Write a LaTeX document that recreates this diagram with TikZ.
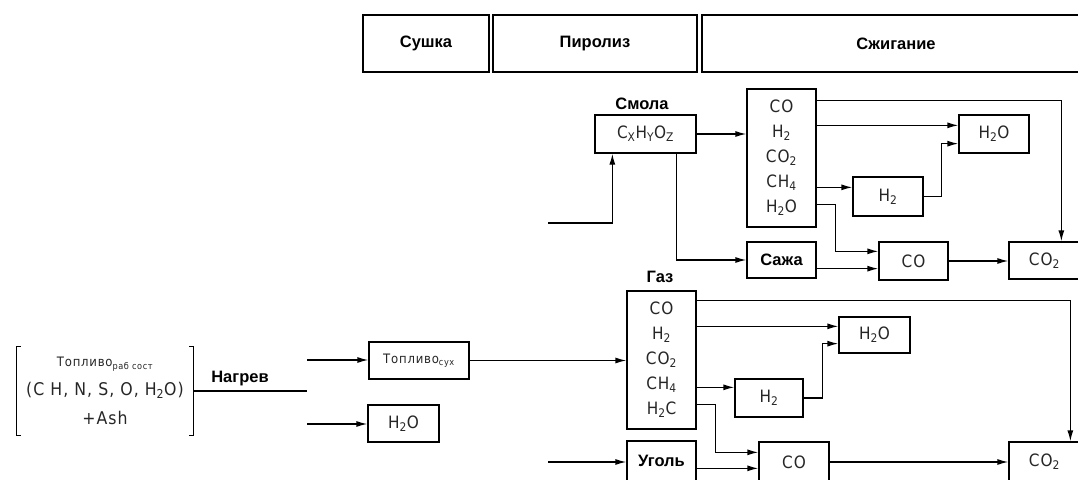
\documentclass[tikz,border=0pt]{standalone}
\usepackage{fontspec}
\setmainfont{Liberation Sans}
\newfontfamily\fml{DejaVu Sans Condensed}[LetterSpace=6]
\usetikzlibrary{arrows.meta,calc}
\begin{document}
\begin{tikzpicture}[x=1pt,y=-1pt,
  bx/.style={draw,line width=1.3pt,inner sep=0pt,font=\fml\fontsize{17}{25}\selectfont,text=black!85,align=center},
  lbl/.style={font=\bfseries\fontsize{16.5}{18}\selectfont},
  lbx/.style={draw,line width=1.3pt,inner sep=0pt,font=\bfseries\fontsize{16.5}{18}\selectfont},
  top/.style={draw,line width=1.6pt,inner sep=0pt,minimum height=57pt,font=\bfseries\fontsize{16.5}{18}\selectfont},
  ln/.style={line width=1.3pt},
  arr/.style={line width=1.3pt,-{Latex[length=11pt,width=6pt]}}]
\useasboundingbox (0,0) rectangle (1078,479);

% phase headers
\node[top,minimum width=126pt] (sushka) at (426,43.5) {Сушка};
\node[top,minimum width=204pt] (piroliz) at (595,43.5) {Пиролиз};
\node[top,minimum width=388pt] (szhig) at (896,43.5) {Сжигание};

% upper section
\node[lbl] (smolalbl) at (642,104) {Смола};
\node[bx,minimum width=101pt,minimum height=38pt] (smola) at (645.5,134) {C\textsubscript{X}H\textsubscript{Y}O\textsubscript{Z}};
\node[bx,minimum width=69pt,minimum height=138pt] (gas1) at (781.5,158) {CO\\H\textsubscript{2}\\CO\textsubscript{2}\\CH\textsubscript{4}\\H\textsubscript{2}O};
\node[bx,minimum width=70pt,minimum height=38pt] (h2o1) at (994,134) {H\textsubscript{2}O};
\node[bx,minimum width=70pt,minimum height=39pt] (h2a) at (888,196.5) {H\textsubscript{2}};
\node[lbx,minimum width=69pt,minimum height=36pt] (sazha) at (781.5,260) {Сажа};
\node[bx,minimum width=69pt,minimum height=38pt] (co1) at (913.5,261) {CO};
\node[bx,minimum width=71pt,minimum height=37pt] (co2a) at (1044.5,260.5) {CO\textsubscript{2}};

\coordinate (c1) at (548,223);
\draw[arr] (c1) -| ($(smola.south west)+(18,0)$);
\draw[arr] (smola.east) -- (smola.east -| gas1.west);
\draw[arr] ($(smola.south west)+(82,0)$) |- (sazha.west);
\draw[arr] ($(gas1.north east)+(0,12)$) -| ($(co2a.north west)+(53,0)$);
\coordinate (g1h2) at ($(gas1.north east)+(0,37)$);
\draw[arr] (g1h2) -- (g1h2 -| h2o1.west);
\coordinate (g1ch4) at ($(gas1.north east)+(0,99)$);
\draw[arr] (g1ch4) -- (g1ch4 -| h2a.west);
\draw[arr] (h2a.east) -- ++(18,0) |- ($(h2o1.south west)+(0,-10)$);
\draw[arr] ($(gas1.north east)+(0,116)$) -- ++(19,0) |- ($(co1.north west)+(0,10)$);
\coordinate (sz) at ($(sazha.south east)+(0,-10)$);
\draw[arr] (sz) -- (sz -| co1.west);
\draw[arr] (co1.east) -- (co1.east -| co2a.west);

% lower section
\node[minimum width=176pt,minimum height=88pt,inner sep=0pt,align=center,
      font=\fml\fontsize{17.5}{29}\selectfont,text=black!85] (fuel) at (105,391)
  {{\fontsize{13}{29}\selectfont Топливо\textsubscript{раб сост}}\\(C H, N, S, O, H\textsubscript{2}O)\\+Ash};
\draw[ln] ($(fuel.north west)+(4,0)$) -- (fuel.north west) -- (fuel.south west) -- ++(4,0);
\draw[ln] ($(fuel.north east)+(-4,0)$) -- (fuel.north east) -- (fuel.south east) -- ++(-4,0);
\node[lbl] (nagrev) at (240,379) {Нагрев};
\coordinate (n1) at (307,391);
\coordinate (n2) at (307,360);
\coordinate (n3) at (307,424);
\draw[ln] (fuel.east) -- (fuel.east -| n1);

\node[bx,minimum width=100pt,minimum height=37pt,font=\fml\fontsize{13}{15}\selectfont] (tsuh) at (419,360.5) {Топливо\textsubscript{сух}};
\node[bx,minimum width=71pt,minimum height=37pt] (h2o0) at (403.5,423.5) {H\textsubscript{2}O};
\node[lbl] (gazlbl) at (660,277) {Газ};
\node[bx,minimum width=69pt,minimum height=138pt] (gas2) at (661.5,360) {CO\\H\textsubscript{2}\\CO\textsubscript{2}\\CH\textsubscript{4}\\H\textsubscript{2}C};
\node[lbx,minimum width=69pt,minimum height=40pt] (ugol) at (661.5,461) {Уголь};
\node[bx,minimum width=71pt,minimum height=36pt] (h2o2) at (874.5,335) {H\textsubscript{2}O};
\node[bx,minimum width=68pt,minimum height=38pt] (h2b) at (769,398) {H\textsubscript{2}};
\node[bx,minimum width=70pt,minimum height=40pt] (co3) at (794,462) {CO};
\node[bx,minimum width=71pt,minimum height=40pt] (co2b) at (1044.5,462) {CO\textsubscript{2}};

\draw[arr] (n2) -- (n2 -| tsuh.west);
\draw[arr] (n3) -- (n3 -| h2o0.west);
\draw[arr] (tsuh.east) -- (tsuh.east -| gas2.west);
\draw[arr] ($(gas2.north east)+(0,10)$) -| ($(co2b.north west)+(62,0)$);
\coordinate (g2h2) at ($(gas2.north east)+(0,36)$);
\draw[arr] (g2h2) -- (g2h2 -| h2o2.west);
\coordinate (g2ch4) at ($(gas2.north east)+(0,97)$);
\draw[arr] (g2ch4) -- (g2ch4 -| h2b.west);
\draw[arr] (h2b.east) -- ++(19,0) |- ($(h2o2.south west)+(0,-10)$);
\draw[arr] ($(gas2.north east)+(0,114)$) -- ++(19,0) |- ($(co3.north west)+(0,11)$);
\coordinate (c2) at (548,462);
\draw[arr] (c2) -- (c2 -| ugol.west);
\coordinate (ug) at ($(ugol.north east)+(0,28)$);
\draw[arr] (ug) -- (ug -| co3.west);
\draw[arr] (co3.east) -- (co3.east -| co2b.west);
\end{tikzpicture}
\end{document}
